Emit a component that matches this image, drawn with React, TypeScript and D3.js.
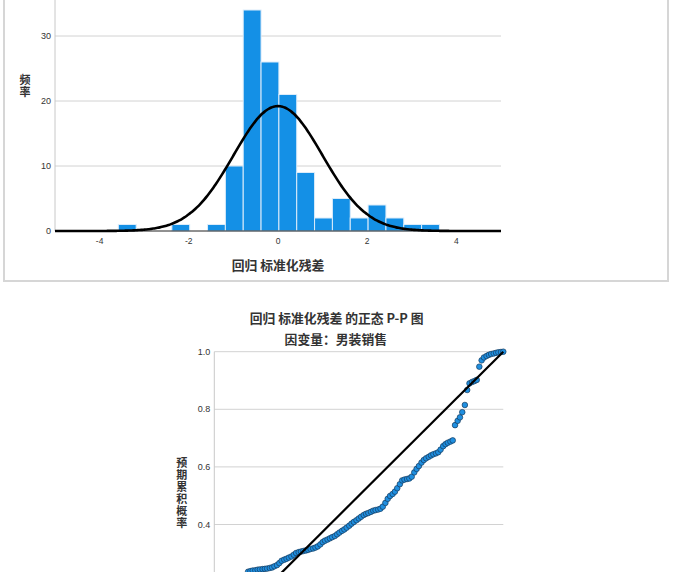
import React from "react";
import * as d3 from "d3";

// ---------- Histogram data ----------
const binStarts = [-3.58, -2.38, -1.58, -1.18, -0.78, -0.38, 0.02, 0.42, 0.82, 1.22, 1.62, 2.02, 2.42, 2.82, 3.22];
const binCounts = [1, 1, 1, 10, 34, 26, 21, 9, 2, 5, 2, 4, 2, 1, 1];
const binWidth = 0.4;
const histXTicks = [-4, -2, 0, 2, 4];
const histYTicks = [0, 10, 20, 30];
const histYGrid = [10, 20, 30, 40];
const residMean = 0;
const residSd = 0.996;

// ---------- P-P plot data ----------
const ppObserved = [
  0.008, 0.017, 0.025, 0.033, 0.042, 0.05, 0.058, 0.067, 0.075, 0.083,
  0.092, 0.1, 0.108, 0.117, 0.125, 0.133, 0.142, 0.15, 0.158, 0.167,
  0.175, 0.183, 0.192, 0.2, 0.208, 0.217, 0.225, 0.233, 0.242, 0.25,
  0.258, 0.267, 0.275, 0.283, 0.292, 0.3, 0.308, 0.317, 0.325, 0.333,
  0.342, 0.35, 0.358, 0.367, 0.375, 0.383, 0.392, 0.4, 0.408, 0.417,
  0.425, 0.433, 0.442, 0.45, 0.458, 0.467, 0.475, 0.483, 0.492, 0.5,
  0.508, 0.517, 0.525, 0.533, 0.542, 0.55, 0.558, 0.567, 0.575, 0.583,
  0.592, 0.6, 0.608, 0.617, 0.625, 0.633, 0.642, 0.65, 0.658, 0.667,
  0.675, 0.683, 0.692, 0.7, 0.708, 0.717, 0.725, 0.733, 0.742, 0.75,
  0.758, 0.767, 0.775, 0.783, 0.792, 0.8, 0.808, 0.817, 0.825, 0.833,
  0.842, 0.85, 0.858, 0.867, 0.875, 0.883, 0.892, 0.9, 0.908, 0.917,
  0.925, 0.933, 0.942, 0.95, 0.958, 0.967, 0.975, 0.983, 0.992, 1.0,
];
const ppExpected = [
  0.0, 0.013, 0.075, 0.12, 0.13, 0.14, 0.15, 0.16, 0.17, 0.18,
  0.19, 0.205, 0.22, 0.236, 0.238, 0.24, 0.241, 0.243, 0.244, 0.245,
  0.246, 0.247, 0.249, 0.251, 0.255, 0.259, 0.266, 0.274, 0.278, 0.281,
  0.285, 0.289, 0.295, 0.301, 0.304, 0.306, 0.308, 0.31, 0.312, 0.315,
  0.317, 0.32, 0.324, 0.331, 0.339, 0.344, 0.348, 0.352, 0.356, 0.36,
  0.366, 0.372, 0.378, 0.383, 0.389, 0.396, 0.403, 0.409, 0.415, 0.421,
  0.427, 0.433, 0.437, 0.44, 0.444, 0.448, 0.45, 0.452, 0.455, 0.462,
  0.475, 0.489, 0.499, 0.506, 0.514, 0.526, 0.54, 0.553, 0.556, 0.558,
  0.56, 0.566, 0.581, 0.593, 0.603, 0.615, 0.624, 0.63, 0.635, 0.64,
  0.644, 0.647, 0.651, 0.66, 0.672, 0.679, 0.684, 0.688, 0.692, 0.745,
  0.76, 0.772, 0.79, 0.815, 0.867, 0.89, 0.895, 0.898, 0.902, 0.948,
  0.97, 0.98, 0.985, 0.989, 0.992, 0.994, 0.996, 0.998, 0.999, 1.0,
];
const ppYTicks = [0.4, 0.6, 0.8, 1.0];

const histYLabel = "频率";
const histXLabel = "回归 标准化残差";
const ppTitle = "回归 标准化残差 的正态 P-P 图";
const ppSubtitle = "因变量：男装销售";
const ppYLabel = "预期累积概率";

const CJK = "'Noto Sans CJK SC', 'Noto Sans', sans-serif";
const LAT = "'Liberation Sans', Arial, sans-serif";
const BAR = "#1490e6";
const GRID = "#d2d2d2";

function VerticalLabel({ text, x, y }: { text: string; x: number; y: number }) {
  return (
    <text
      x={x}
      y={y}
      textAnchor="middle"
      fontFamily={CJK}
      fontSize={11}
      fontWeight={700}
      fill="#333"
      style={{ writingMode: "vertical-rl", letterSpacing: "1px" }}
    >
      {text}
    </text>
  );
}

export default function App() {
  // histogram scales
  const hx = d3.scaleLinear().domain([-5, 5]).range([55, 501]);
  const hy = d3.scaleLinear().domain([0, 40]).range([231, -29]);
  const total = d3.sum(binCounts);
  const normal = (x: number) =>
    (total * binWidth) / (residSd * Math.sqrt(2 * Math.PI)) *
    Math.exp(-0.5 * ((x - residMean) / residSd) ** 2);
  const curveXs = d3.range(-5, 5.0001, 0.05);
  const curvePath = d3
    .line<number>()
    .x((d) => hx(d))
    .y((d) => hy(normal(d)))
    .curve(d3.curveBasis)(curveXs) as string;

  // P-P scales
  const px = d3.scaleLinear().domain([0, 1]).range([214.3, 503.3]);
  const py = d3.scaleLinear().domain([0, 1]).range([639.7, 351.7]);

  return (
    <svg
      width={680}
      height={572}
      style={{ position: "absolute", left: 0, top: 0, background: "#fff" }}
    >
      <rect x={0} y={0} width={680} height={572} fill="#fff" />
      {/* histogram frame */}
      <rect x={4} y={-40} width={664} height={321} fill="none" stroke="#d6d6d6" strokeWidth={2} />

      {/* grid */}
      {histYGrid.map((t) => (
        <line key={t} x1={hx(-5)} x2={hx(5)} y1={hy(t)} y2={hy(t)} stroke={GRID} strokeWidth={1} />
      ))}
      <line x1={hx(-5)} x2={hx(-5)} y1={hy(0)} y2={hy(40)} stroke="#c8c8c8" strokeWidth={1} />

      {/* bars */}
      {binStarts.map((s, i) => (
        <rect
          key={i}
          x={hx(s)}
          y={hy(binCounts[i])}
          width={hx(s + binWidth) - hx(s)}
          height={hy(0) - hy(binCounts[i])}
          fill={BAR}
          stroke="#dcecfa"
          strokeWidth={1}
        />
      ))}
      <line x1={hx(-5)} x2={hx(5)} y1={hy(0)} y2={hy(0)} stroke="#222" strokeWidth={1} />
      <path d={curvePath} fill="none" stroke="#000" strokeWidth={2.6} />

      {/* histogram ticks */}
      {histYTicks.map((t) => (
        <text key={t} x={hx(-5) - 4} y={hy(t)} dy="0.35em" textAnchor="end" fontFamily={LAT} fontSize={9} fill="#333">
          {t}
        </text>
      ))}
      {histXTicks.map((t) => (
        <text key={t} x={hx(t)} y={244} textAnchor="middle" fontFamily={LAT} fontSize={8.5} fill="#333">
          {t}
        </text>
      ))}
      <VerticalLabel text={histYLabel} x={25} y={86.5} />
      <text x={278} y={265} dy="0.36em" textAnchor="middle" fontFamily={CJK} fontSize={12.8} fontWeight={700} fill="#333">
        {histXLabel}
      </text>

      {/* P-P plot */}
      <text x={336.7} y={318.3} dy="0.36em" textAnchor="middle" fontFamily={CJK} fontSize={12.8} fontWeight={700} fill="#333">
        {ppTitle}
      </text>
      <text x={335.8} y={339.5} dy="0.36em" textAnchor="middle" fontFamily={CJK} fontSize={12.8} fontWeight={700} fill="#333">
        {ppSubtitle}
      </text>
      {ppYTicks.map((t) => (
        <line key={t} x1={px(0)} x2={px(1)} y1={py(t)} y2={py(t)} stroke={GRID} strokeWidth={1} />
      ))}
      <line x1={px(0)} x2={px(0)} y1={py(0)} y2={py(1)} stroke="#c8c8c8" strokeWidth={1} />
      {ppYTicks.map((t) => (
        <text key={t} x={px(0) - 4} y={py(t)} dy="0.35em" textAnchor="end" fontFamily={LAT} fontSize={9} fill="#333">
          {t.toFixed(1)}
        </text>
      ))}
      <VerticalLabel text={ppYLabel} x={181.7} y={493.3} />
      {ppObserved.map((o, i) => (
        <circle key={i} cx={px(o)} cy={py(ppExpected[i])} r={2.8} fill="#1f8fe0" stroke="#16395c" strokeWidth={0.7} />
      ))}
      <line x1={px(0)} y1={py(0)} x2={px(1)} y2={py(1)} stroke="#000" strokeWidth={2.2} />
    </svg>
  );
}
